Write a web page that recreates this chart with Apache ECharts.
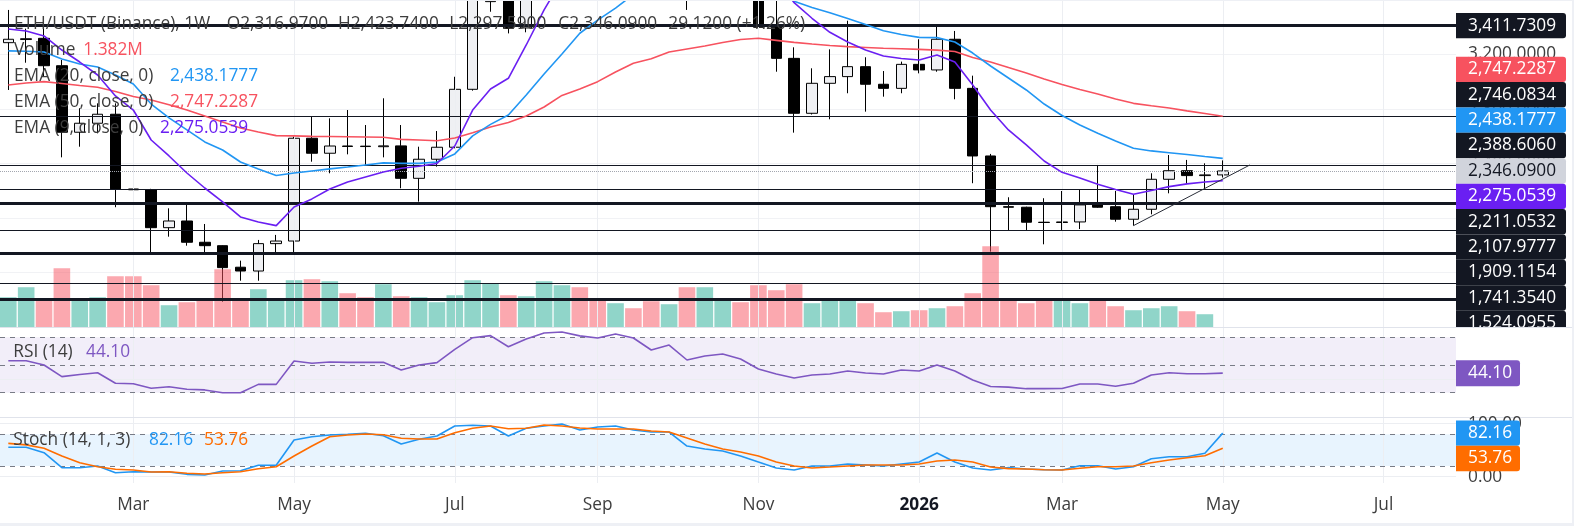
<!DOCTYPE html>
<html><head><meta charset="utf-8">
<script src="https://cdn.jsdelivr.net/npm/echarts@6/dist/echarts.min.js"></script>
<style>html,body{margin:0;padding:0;background:#fff;overflow:hidden}#chart{width:1574px;height:526px}</style>
</head><body><div id="chart"></div><script>
// ---- DATA (weekly candles, index = week number) ----
const weeks=['2025-01-13','2025-01-20','2025-01-27','2025-02-03','2025-02-10','2025-02-17','2025-02-24','2025-03-03','2025-03-10','2025-03-17','2025-03-24','2025-03-31','2025-04-07','2025-04-14','2025-04-21','2025-04-28','2025-05-05','2025-05-12','2025-05-19','2025-05-26','2025-06-02','2025-06-09','2025-06-16','2025-06-23','2025-06-30','2025-07-07','2025-07-14','2025-07-21','2025-07-28','2025-08-04','2025-08-11','2025-08-18','2025-08-25','2025-09-01','2025-09-08','2025-09-15','2025-09-22','2025-09-29','2025-10-06','2025-10-13','2025-10-20','2025-10-27','2025-11-03','2025-11-10','2025-11-17','2025-11-24','2025-12-01','2025-12-08','2025-12-15','2025-12-22','2025-12-29','2026-01-05','2026-01-12','2026-01-19','2026-01-26','2026-02-02','2026-02-09','2026-02-16','2026-02-23','2026-03-02','2026-03-09','2026-03-16','2026-03-23','2026-03-30','2026-04-06','2026-04-13','2026-04-20','2026-04-27','2026-05-04'];
const open=[3287,3310,3319,3118,2630,2696,2762,2214,2207,1930,1979,1823,1798,1640,1612,1813,1832,2586,2476,2529,2528,2524,2530,2292,2432,2520,2945,3588,3780,3395,4260,4470,4780,4390,4310,4670,4480,4010,4510,3750,3890,4160,3900,3404,3172,2769,2989,3038,3111,2982,2952,3128,3087,3312,2952,2456,2084,2080,1970,1968,1972,2100,2084,1992,2065,2285,2348,2312,2316.97];
const high=[3527,3390,3434,3160,2806,2842,2842,2549,2215,2072,2104,1957,1800,1688,1840,1877,2597,2744,2732,2793,2683,2879,2683,2524,2639,3037,3860,3940,3880,4330,4790,4950,4950,4500,4770,4770,4480,4600,4760,4290,4250,4250,3920,3660,3253,3099,3238,3448,3180,3079,3148,3312,3404,3373,3045,2471,2153,2084,2146,2199,2212,2390,2199,2170,2329,2463,2427,2402,2423.74];
const low=[2940,3140,3037,2446,2524,2622,2080,1999,1750,1864,1798,1742,1387,1541,1541,1737,1742,2414,2329,2468,2390,2446,2219,2121,2378,2512,2935,3514,3355,3363,4240,4060,4210,4210,4300,4430,3815,3990,3527,3680,3680,3680,3062,3074,2627,2760,2725,2916,2781,2891,2916,3062,3074,2872,2256,1754,1908,1913,1808,1913,1920,2076,1974,1945,2028,2182,2250,2212,2297.59];
const close=[3312,3316,3118,2630,2696,2762,2214,2208,1930,1979,1823,1798,1637,1612,1813,1832,2586,2476,2529,2526,2525,2530,2292,2432,2520,2945,3760,3780,3392,4260,4470,4780,4390,4310,4670,4480,4010,4510,3750,3890,4160,3900,3400,3172,2769,2989,3038,3111,2982,2952,3128,3087,3312,2952,2456,2084,2080,1970,1968,1972,2097,2080,1992,2065,2285,2348,2312,2316.97,2346.09];
const volume=[4.98,6.18,4.74,8.46,4.74,4.98,7.50,7.50,6.42,4.02,4.38,4.74,8.34,4.74,5.94,4.74,7.02,7.14,6.90,5.46,4.98,6.54,5.10,4.98,4.38,5.22,7.02,6.66,5.22,5.10,6.90,6.42,6.18,4.62,4.26,3.66,4.50,4.14,6.18,6.18,4.62,4.38,6.42,5.82,6.54,4.26,4.74,4.62,4.26,3.18,3.30,3.42,3.66,3.90,5.46,11.10,4.74,4.26,4.62,4.74,4.26,4.62,3.90,3.42,3.66,3.90,3.30,2.94,1.382];
const ema9=[3387,3373,3336,3233,3145,3050,2896,2793,2573,2456,2331,2221,2119,2009,1972,1945,2082,2141,2214,2265,2302,2339,2366,2380,2401,2529,2793,2947,3026,3270,3527,3750,3890,3970,4110,4190,4150,4220,4130,4080,4100,4060,3930,3775,3580,3466,3363,3292,3233,3189,3171,3160,3197,3145,2977,2793,2647,2537,2419,2336,2295,2248,2210,2175,2203,2231,2251,2265,2275.0539];
const ema20=[3227,3224,3219,3167,3131,3109,3050,2984,2837,2735,2647,2559,2500,2412,2361,2313,2331,2346,2361,2375,2390,2405,2402,2402,2412,2471,2603,2688,2757,2903,3057,3204,3356,3453,3541,3640,3680,3740,3770,3780,3800,3790,3740,3680,3590,3545,3507,3464,3420,3375,3347,3326,3324,3292,3211,3116,3028,2940,2837,2753,2683,2622,2566,2512,2493,2480,2467,2452,2438.1777];
const ema50=[2977,2991,3001,2988,2973,2960,2929,2892,2867,2832,2793,2749,2705,2661,2632,2605,2603,2600,2599,2597,2595,2593,2578,2573,2568,2588,2627,2669,2702,2749,2815,2900,2947,3001,3072,3136,3169,3219,3241,3263,3288,3310,3319,3304,3289,3277,3266,3258,3252,3246,3242,3238,3232,3222,3178,3145,3105,3065,3021,2980,2944,2911,2874,2842,2824,2808,2787,2768,2747.2287];
const rsi=[53.1,53.1,50.0,41.6,43.1,44.4,36.8,36.5,33.2,34.3,32.5,32.0,30.0,30.0,36.0,36.0,52.9,51.2,52.2,51.9,51.9,51.9,46.4,50.0,51.7,61.3,69.7,71.2,63.2,68.8,73.1,73.8,71.0,69.5,72.4,69.5,60.8,64.4,53.6,56.5,57.9,54.3,47.1,43.5,40.6,42.8,43.5,45.7,44.2,43.5,46.4,45.7,50.0,45.7,39.2,34.5,34.0,32.9,32.9,33.0,36.3,36.3,34.6,36.8,42.8,44.4,43.7,43.7,44.10];
const stochK=[55.4,55.4,45.2,16.8,16.8,20.0,7.4,9.3,8.7,8.7,4.3,3.0,10.6,11.2,21.4,21.4,69.2,75.4,78.6,80.0,81.9,77.3,61.6,70.5,76.7,95.6,97.0,95.6,76.7,91.3,95.6,99.4,88.0,93.8,95.6,88.0,84.3,84.3,57.8,52.2,48.4,38.9,27.6,16.3,12.5,20.0,20.0,23.8,21.9,20.0,23.8,27.6,44.6,27.6,16.3,12.5,17.0,14.4,13.0,12.5,20.6,20.6,14.4,18.7,33.8,37.6,37.6,44.0,82.16];
const stochD=[62.9,60.0,53.5,38.9,26.3,18.7,13.8,12.5,8.7,9.3,6.2,4.9,7.4,9.3,14.9,18.7,38.9,57.8,75.4,78.6,80.5,79.2,72.4,71.1,71.1,83.0,91.3,95.6,90.5,91.3,97.5,95.6,91.9,90.0,90.0,90.0,86.2,84.3,73.0,61.6,52.2,46.5,38.9,27.6,20.0,16.3,18.1,20.0,21.9,21.9,21.9,23.8,29.5,31.4,27.6,18.1,15.0,14.4,13.0,12.5,15.8,18.7,18.7,20.0,26.3,31.4,35.7,39.5,53.76];
const thickLines=[3411.7309,2107.9777,1741.3540,1407.0000];
const thinLines=[2746.0834,2388.6060,2211.0532,1909.1154,1524.0955];
const trendline=[[63,1945],[69.52,2390]];
const tickIndex=[7,16,25,33,42,51,59,68,77];
const tickLabels=['Mar','May','Jul','Sep','Nov','2026','Mar','May','Jul'];

// ---- STYLE ----
const FONT="'Open Sans', sans-serif";
const FS=17.3;
const UP='rgba(34,171,148,0.5)', DN='rgba(247,82,95,0.5)';
const C_EMA9='#6A1FF2', C_EMA20='#2196F3', C_EMA50='#F7525F', C_RSI='#7E57C2', C_K='#2196F3', C_D='#FF6D00';
const NAVY='#131722', TXT='#3d3d3d';
const last=weeks.length-1;
const fmt4=v=>v.toLocaleString('en-US',{minimumFractionDigits:4,maximumFractionDigits:4});
const fmt2=v=>v.toFixed(2);

const chart=echarts.init(document.getElementById('chart'));
const X0=-0.465, X1=81.06;
const volMin=Math.min(...volume);

function vgrid(xk,yk){return {type:'line',xAxisIndex:xk,yAxisIndex:yk,data:[],silent:true,z:1,
  markLine:{silent:true,symbol:['none','none'],animation:false,label:{show:false},
    lineStyle:{color:'#ECEEF2',width:1,type:'solid'},data:tickIndex.map(i=>({xAxis:i}))}};}
function hl(xk,yk,vals,style,z){return {type:'line',xAxisIndex:xk,yAxisIndex:yk,data:[],silent:true,z:z,
  markLine:{silent:true,symbol:['none','none'],animation:false,label:{show:false},lineStyle:style,
    data:vals.map(v=>({yAxis:v}))}};}
function band(xk,yk,a,b,color){return {type:'line',xAxisIndex:xk,yAxisIndex:yk,data:[],silent:true,z:0,
  markArea:{silent:true,itemStyle:{color:color},data:[[{yAxis:a},{yAxis:b}]]}};}
function ln(xk,yk,arr,color,z){return {type:'line',xAxisIndex:xk,yAxisIndex:yk,data:arr.map((v,i)=>[i,v]),
  showSymbol:false,symbol:'none',silent:true,clip:true,z:z||5,lineStyle:{width:1.6,color:color},itemStyle:{color:color}};}

const option={
  animation:false,
  backgroundColor:'#ffffff',
  grid:[
    {left:0,top:0,width:1456,height:327.2},
    {left:0,top:328,width:1456,height:89},
    {left:0,top:418,width:1456,height:65}
  ],
  xAxis:[0,1,2].map(k=>({type:'value',gridIndex:k,min:X0,max:X1,show:false})),
  yAxis:[
    {type:'value',gridIndex:0,position:'right',min:1200,max:3600,interval:400,
      axisLine:{show:false},axisTick:{show:false},
      splitLine:{show:true,lineStyle:{color:'#F1F2F5'}},
      axisLabel:{margin:12,color:TXT,fontSize:FS,fontFamily:FONT,showMinLabel:false,showMaxLabel:false,formatter:v=>fmt4(v)}},
    {type:'value',gridIndex:0,min:volMin,max:volMin+39.26,show:false},
    {type:'value',gridIndex:1,min:12.45,max:76.7,show:false},
    {type:'value',gridIndex:2,min:-12.1,max:110.8,show:false}
  ],
  series:[
    vgrid(0,0), vgrid(1,2), vgrid(2,3),
    band(1,2,70,30,'rgba(126,87,194,0.1)'),
    hl(1,2,[40],{color:'#ECEEF2',width:1,type:'solid'},1),
    hl(1,2,[70,50,30],{color:'#787B86',width:1,type:[5,5]},2),
    band(2,3,80,20,'rgba(33,150,243,0.1)'),
    hl(2,3,[100,0],{color:'#ECEEF2',width:1,type:'solid'},1),
    hl(2,3,[80,20],{color:'#787B86',width:1,type:[5,5]},2),
    {type:'candlestick',xAxisIndex:0,yAxisIndex:0,silent:true,clip:true,z:2,barWidth:11,
      data:weeks.map((d,i)=>[i,open[i],close[i],low[i],high[i]]),
      itemStyle:{color:'#EFF0F3',color0:'#000000',borderColor:'#000000',borderColor0:'#000000',borderWidth:1}},
    hl(0,0,thickLines,{color:NAVY,width:3,type:'solid'},3),
    hl(0,0,thinLines,{color:NAVY,width:1,type:'solid'},3),
    hl(0,0,[close[last]],{color:'#A3A6AF',width:1,type:'dotted'},3),
    {type:'bar',xAxisIndex:0,yAxisIndex:1,silent:true,z:4,barWidth:16.6,
      data:volume.map((v,i)=>({value:[i,v],itemStyle:{color:close[i]>=open[i]?UP:DN}}))},
    ln(0,0,ema50,C_EMA50,5),
    ln(0,0,ema20,C_EMA20,5),
    ln(0,0,ema9,C_EMA9,5),
    {type:'line',xAxisIndex:0,yAxisIndex:0,data:trendline,showSymbol:false,symbol:'none',silent:true,z:5,
      lineStyle:{width:1,color:'#2a2e39'}},
    ln(1,2,rsi,C_RSI,5),
    ln(2,3,stochK,C_K,5),
    ln(2,3,stochD,C_D,6)
  ]
};
chart.setOption(option);

// ---- overlays: legends, price tags, time labels ----
const G=[];
function T(x,y,text,fill,o){o=o||{};G.push({type:'text',x:x,y:y,z:o.z||100,silent:true,
  style:{text:text,fill:fill,font:(o.weight||'normal')+' '+(o.size||FS)+'px '+FONT,align:o.align||'left',verticalAlign:'middle'}});}
function R(x,y,w,h,fill,z,r){G.push({type:'rect',z:z,silent:true,shape:{x:x,y:y,width:w,height:h,r:r||0},style:{fill:fill}});}
function L(x1,y1,x2,y2,stroke,z){G.push({type:'line',z:z,silent:true,shape:{x1:x1,y1:y1,x2:x2,y2:y2},style:{stroke:stroke,lineWidth:1}});}

// legend
const chg=close[last]-close[last-1];
const pct=chg/close[last-1]*100;
T(14,24,'ETH/USDT (Binance), 1W',TXT);
T(226.7,24,'O'+fmt4(open[last]),TXT);
T(338,24,'H'+fmt4(high[last]),TXT);
T(449.3,24,'L'+fmt4(low[last]),TXT);
T(558.3,24,'C'+fmt4(close[last]),TXT);
T(668.3,24,fmt4(chg)+' ('+(chg>=0?'+':'')+pct.toFixed(2)+'%)',TXT);
T(14,50,'Volume',TXT); T(83.3,50,volume[last].toFixed(3)+'M',C_EMA50);
T(14,76,'EMA (20, close, 0)',TXT); T(170,76,fmt4(ema20[last]),C_EMA20);
T(14,101.7,'EMA (50, close, 0)',TXT); T(170,101.7,fmt4(ema50[last]),C_EMA50);
T(14,127.7,'EMA (9, close, 0)',TXT); T(160,127.7,fmt4(ema9[last]),C_EMA9);
T(13.3,352,'RSI (14)',TXT); T(86,352,fmt2(rsi[last]),C_RSI);
T(13.3,440.5,'Stoch (14, 1, 3)',TXT); T(149,440.5,fmt2(stochK[last]),C_K); T(204,440.5,fmt2(stochD[last]),C_D);

// price tags stacked around the last-price tag
const py=v=>chart.convertToPixel({yAxisIndex:0},v);
let tags=[];
thickLines.forEach(v=>tags.push({v:v,bg:NAVY,fg:'#fff'}));
thinLines.forEach(v=>tags.push({v:v,bg:NAVY,fg:'#fff'}));
tags.push({v:ema50[last],bg:C_EMA50,fg:'#fff'});
tags.push({v:ema20[last],bg:C_EMA20,fg:'#fff'});
tags.push({v:ema9[last],bg:C_EMA9,fg:'#fff'});
tags.push({v:close[last],bg:'#D1D4DC',fg:NAVY,anchor:true});
tags.sort((a,b)=>b.v-a.v);
const H=25.4;
const ai=tags.findIndex(t=>t.anchor);
tags[ai].y=py(tags[ai].v);
for(let i=ai-1;i>=0;i--) tags[i].y=Math.min(py(tags[i].v),tags[i+1].y-H);
for(let i=ai+1;i<tags.length;i++) tags[i].y=Math.max(py(tags[i].v),tags[i-1].y+H);
tags.forEach(t=>{R(1456,t.y-H/2,110,H,t.bg,40,[0,3,3,0]); T(1468,t.y,fmt4(t.v),t.fg,{z:41});});
// cover below price pane on the axis side
R(1456,327.5,118,90,'#ffffff',50);

// pane separators
L(0,327.5,1572,327.5,'#E0E3EB',60);
L(0,417.5,1572,417.5,'#E0E3EB',60);

// RSI tag
const ry=chart.convertToPixel({yAxisIndex:2},rsi[last]);
R(1456,ry-13,64,26,C_RSI,70,[0,3,3,0]); T(1468,ry,fmt2(rsi[last]),'#fff',{z:71});

// Stoch axis labels + tags
const sy=v=>chart.convertToPixel({yAxisIndex:3},v);
T(1468,sy(100),'100.00',TXT,{z:65}); T(1468,sy(0),'0.00',TXT,{z:65});
const ky=sy(stochK[last]); const dy=Math.max(sy(stochD[last]),ky+H);
R(1456,ky-H/2,64,H,C_K,70,[0,3,3,0]); T(1468,ky,fmt2(stochK[last]),'#fff',{z:71});
R(1456,dy-H/2,64,H,C_D,70,[0,3,3,0]); T(1468,dy,fmt2(stochD[last]),'#fff',{z:71});

// time labels
tickIndex.forEach((ti,k)=>{
  const x=chart.convertToPixel({xAxisIndex:2},ti);
  const isYear=/^\d{4}$/.test(tickLabels[k]);
  T(x,505,tickLabels[k],isYear?NAVY:TXT,{align:'center',weight:isYear?'bold':'normal'});
});

// outer frame
R(1572,0,2,526,'#EEF0F5',200);
R(0,523,1574,3,'#EEF0F5',200);
R(0,0,1574,1,'#EEF0F5',200);

chart.setOption({graphic:G});
</script></body></html>
